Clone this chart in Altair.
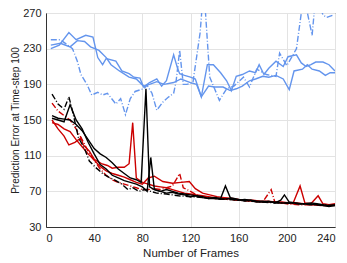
import altair as alt
import pandas as pd

# Blue group
b1_x = [4, 11, 19, 25, 33, 39, 43, 47, 50, 58, 63, 69, 73, 78, 81, 86, 92, 96, 100, 106, 109, 111, 115, 120, 124, 129, 134, 139, 145, 150, 154, 158, 163, 169, 174, 177, 181, 185, 191, 197, 201, 208, 212, 216, 220, 224, 230, 235, 240]
b1_y = [230, 234, 248, 240, 245, 243, 220, 212, 219, 216, 205, 202, 198, 197, 187, 192, 196, 188, 194, 223, 209, 202, 200, 198, 196, 176, 212, 212, 203, 194, 183, 199, 201, 205, 203, 212, 201, 208, 216, 210, 221, 223, 214, 210, 212, 215, 215, 212, 205]
b2_x = [4, 12, 20, 26, 32, 37, 44, 50, 54, 61, 69, 75, 81, 86, 92, 98, 106, 112, 120, 125, 129, 135, 140, 147, 153, 158, 163, 169, 174, 180, 185, 191, 197, 202, 206, 213, 217, 221, 227, 232, 236, 240]
b2_y = [234, 236, 232, 239, 238, 232, 228, 220, 212, 205, 198, 196, 188, 190, 193, 190, 192, 196, 192, 190, 176, 188, 187, 187, 183, 185, 188, 194, 196, 199, 198, 200, 196, 184, 205, 207, 212, 207, 205, 200, 203, 203]
b3_x = [4, 12, 22, 26, 29, 34, 38, 43, 47, 51, 58, 62, 66, 70, 74, 81, 84, 88, 92, 97, 101, 106, 108, 111, 114, 117, 122, 128, 131, 136, 144, 150, 156, 164, 169, 175, 183, 191, 194, 200, 208, 214, 221, 224, 230, 233, 239]
b3_y = [240, 240, 230, 216, 201, 190, 178, 181, 178, 180, 168, 174, 156, 174, 182, 185, 189, 180, 161, 170, 175, 180, 193, 228, 190, 190, 192, 248, 300, 198, 172, 185, 188, 198, 187, 207, 201, 199, 225, 211, 230, 290, 245, 290, 268, 265, 268]

# Red group
r1_x = [5, 10, 15, 19, 24, 29, 31, 36, 40, 46, 51, 55, 60, 65, 69, 72, 75, 80, 85, 90, 95, 100, 105, 110, 115, 120, 125, 130, 135, 140, 145, 150, 155, 160, 165, 170, 175, 180, 185, 190, 195, 200, 205, 211, 215, 220, 226, 230, 235, 240]
r1_y = [150, 140, 132, 122, 125, 130, 122, 115, 106, 101, 99, 96, 97, 97, 101, 147, 85, 80, 78, 76, 75, 74, 72, 70, 68, 67, 66, 65, 64, 63, 62, 62, 61, 60, 60, 59, 59, 58, 58, 58, 57, 57, 56, 76, 57, 56, 65, 56, 55, 56]
r2_x = [5, 10, 15, 20, 25, 30, 35, 40, 45, 50, 55, 60, 65, 70, 75, 80, 85, 90, 97, 105, 112, 119, 124, 130, 136, 142, 148, 155, 160, 166, 172, 178, 184, 190, 196, 202, 208, 214, 220, 226, 232, 240]
r2_y = [147, 145, 140, 137, 128, 120, 112, 105, 98, 93, 90, 88, 86, 83, 80, 78, 85, 87, 81, 79, 80, 81, 73, 68, 66, 64, 63, 62, 61, 60, 60, 59, 59, 58, 58, 57, 57, 56, 55, 55, 54, 55]
r3_x = [5, 10, 15, 20, 25, 30, 35, 40, 45, 50, 55, 60, 65, 70, 75, 80, 85, 90, 95, 100, 105, 111, 114, 120, 125, 130, 140, 150, 160, 170, 180, 187, 190, 195, 200, 210, 220, 230, 240]
r3_y = [169, 160, 155, 150, 140, 128, 115, 105, 95, 88, 83, 80, 78, 76, 74, 72, 72, 73, 72, 74, 76, 90, 74, 70, 66, 64, 62, 61, 60, 59, 58, 72, 58, 57, 56, 55, 55, 54, 54]

# Black group
k1_x = [5, 10, 15, 20, 25, 30, 35, 40, 45, 50, 55, 60, 65, 70, 75, 79, 83, 86, 90, 95, 100, 105, 110, 115, 120, 125, 130, 135, 140, 145, 153, 160, 165, 170, 175, 180, 185, 190, 195, 200, 205, 210, 215, 220, 225, 230, 235, 240]
k1_y = [155, 152, 151, 150, 145, 138, 128, 118, 112, 108, 102, 95, 90, 85, 83, 80, 185, 75, 72, 70, 72, 70, 68, 67, 66, 65, 64, 62, 62, 61, 62, 60, 61, 60, 59, 59, 58, 58, 57, 57, 57, 56, 56, 57, 56, 55, 54, 55]
k2_x = [5, 10, 15, 20, 25, 30, 35, 40, 45, 50, 55, 60, 65, 70, 75, 80, 84, 87, 90, 95, 100, 105, 110, 115, 120, 125, 130, 135, 140, 145, 149, 153, 160, 165, 170, 175, 180, 185, 190, 195, 198, 202, 207, 212, 218, 225, 230, 235, 240]
k2_y = [152, 150, 148, 167, 150, 140, 125, 112, 100, 95, 88, 85, 82, 80, 78, 75, 70, 108, 72, 70, 68, 69, 67, 66, 64, 65, 63, 62, 63, 62, 76, 63, 61, 59, 60, 58, 58, 59, 57, 60, 66, 58, 57, 56, 56, 55, 54, 53, 54]
k3_x = [5, 10, 15, 19, 22, 27, 32, 36, 41, 47, 52, 58, 63, 68, 72, 77, 82, 87, 92, 100, 110, 120, 130, 140, 150, 160, 170, 180, 190, 200, 210, 220, 230, 240]
k3_y = [179, 168, 162, 176, 160, 130, 118, 104, 97, 90, 86, 82, 78, 72, 74, 70, 72, 70, 68, 67, 65, 64, 63, 62, 61, 60, 59, 58, 57, 57, 56, 55, 55, 54]

x_ticks = [0, 40, 80, 120, 160, 200, 240]
y_ticks = [30, 70, 110, 150, 190, 230, 270]

BLUE = "#6495ED"
RED = "#CC0000"
BLACK = "#000000"
DASHDOT = [6, 2, 1, 2]

series = [
    ("b1", b1_x, b1_y, BLUE, None),
    ("b2", b2_x, b2_y, BLUE, None),
    ("b3", b3_x, b3_y, BLUE, DASHDOT),
    ("r1", r1_x, r1_y, RED, None),
    ("r2", r2_x, r2_y, RED, None),
    ("r3", r3_x, r3_y, RED, DASHDOT),
    ("k1", k1_x, k1_y, BLACK, None),
    ("k2", k2_x, k2_y, BLACK, None),
    ("k3", k3_x, k3_y, BLACK, DASHDOT),
]

x_scale = alt.Scale(domain=[0, 240], nice=False, zero=False)
y_scale = alt.Scale(domain=[30, 270], nice=False, zero=False)
x_axis = alt.Axis(values=x_ticks, title="Number of Frames", titleFontSize=11.5,
                  ticks=False, labelPadding=5, titlePadding=4, grid=True)
y_axis = alt.Axis(values=y_ticks, title="Prediction Error at Time-step 100", titleFontSize=10,
                  ticks=False, labelPadding=5, titlePadding=2, grid=True)

layers = []
for name, xs, ys, color, dash in series:
    df = pd.DataFrame({"x": xs, "y": ys})
    kw = dict(color=color, strokeWidth=1.4, clip=True)
    if dash is not None:
        kw["strokeDash"] = dash
    layers.append(
        alt.Chart(df).mark_line(**kw).encode(
            x=alt.X("x:Q", scale=x_scale, axis=x_axis),
            y=alt.Y("y:Q", scale=y_scale, axis=y_axis),
        )
    )

chart = alt.layer(*layers).properties(
    width=289, height=214,
    autosize=alt.AutoSizeParams(type="none"),
    padding={"left": 38, "top": 5, "right": 4, "bottom": 36},
).configure_view(
    stroke="#333333", strokeWidth=1
).configure_axis(
    labelFont="Liberation Sans", titleFont="Liberation Sans",
    labelFontSize=11, titleFontWeight="normal",
    labelColor="#222222", titleColor="#222222",
    domainColor="#333333", gridColor="#e3e3e3", gridWidth=1,
)

chart.save("out.html", embed_options={"renderer": "svg", "actions": False})
